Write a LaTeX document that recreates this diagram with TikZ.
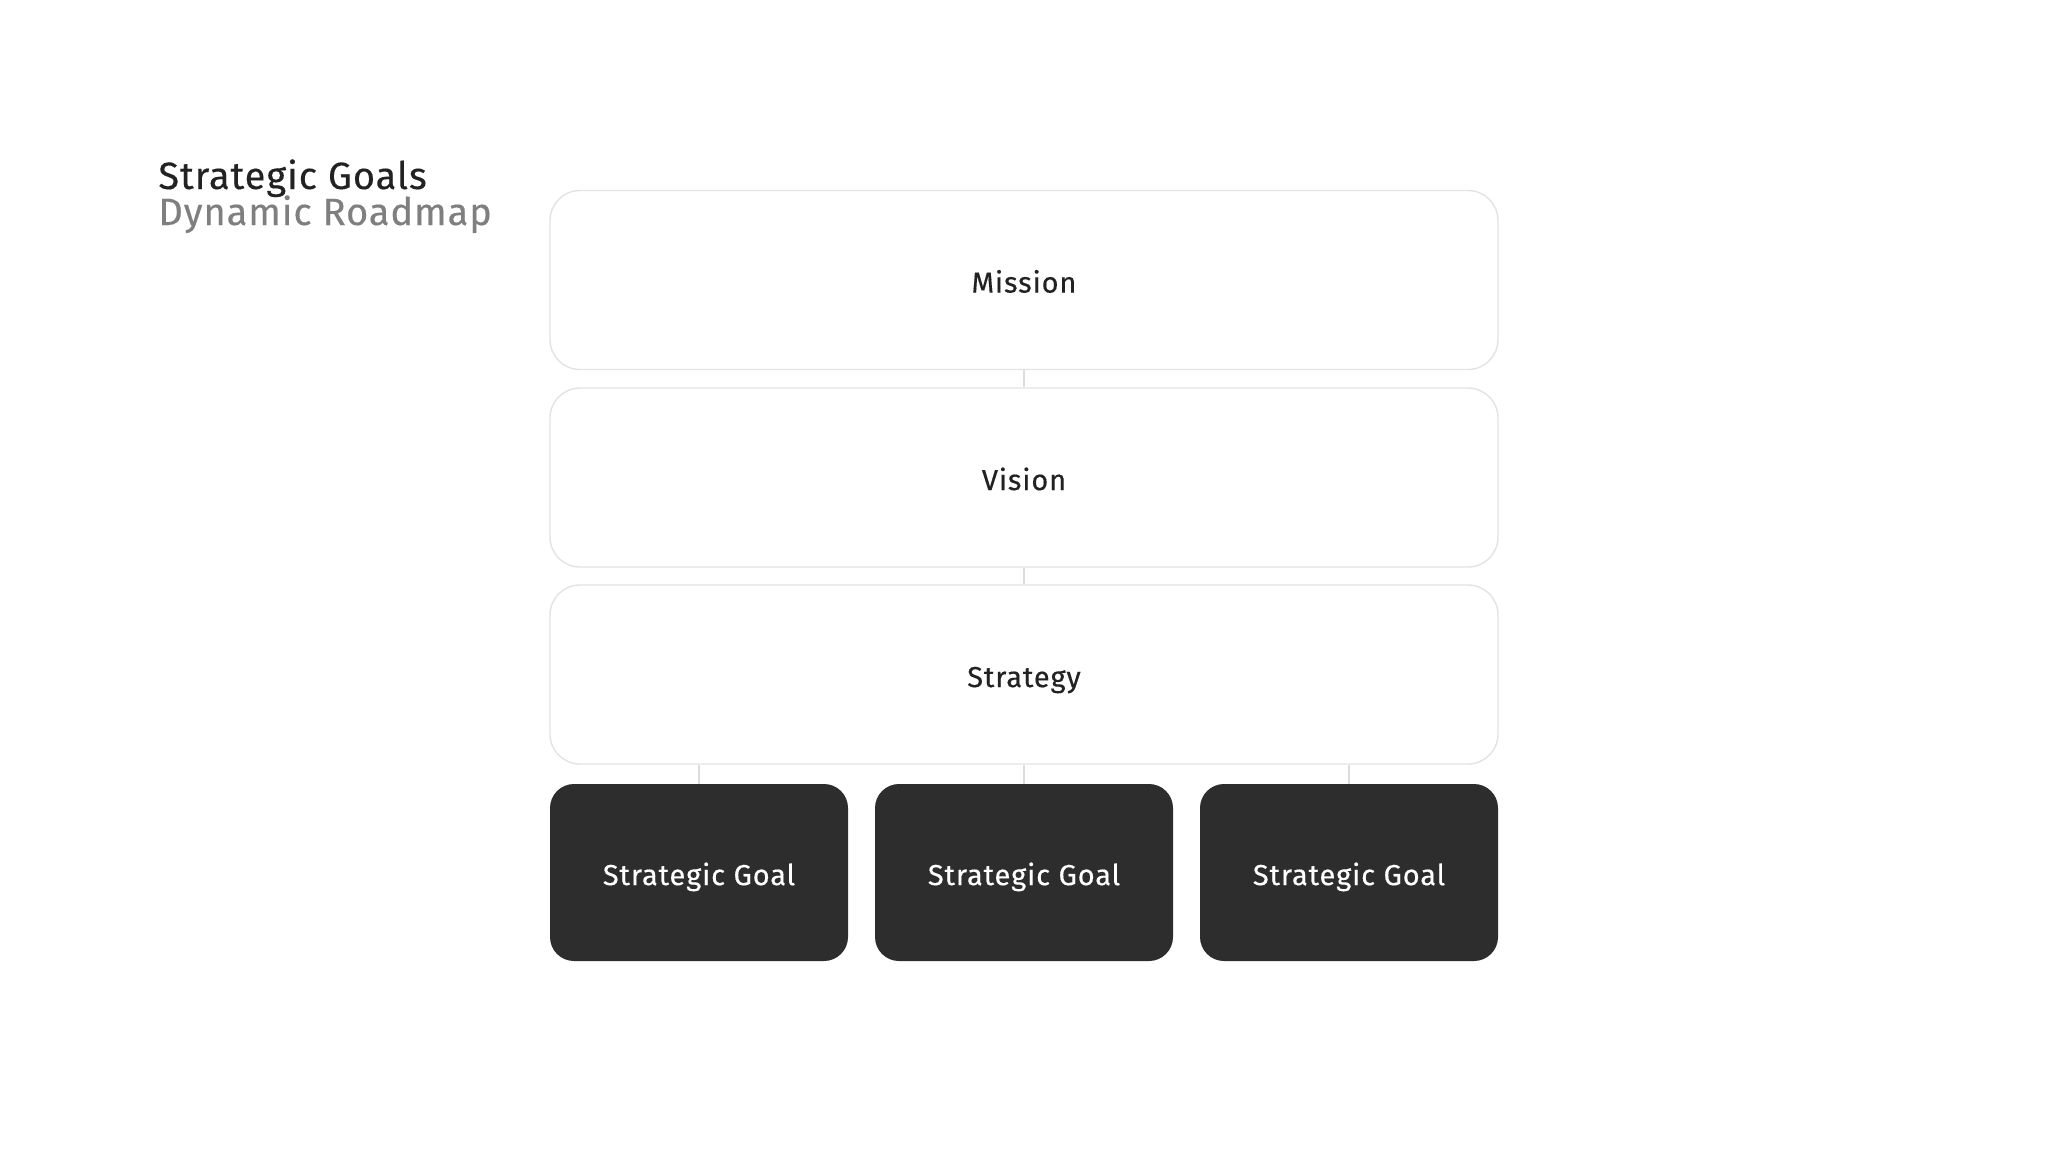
\documentclass[tikz,border=0pt]{standalone}
\usepackage{fontspec}
\setmainfont{Fira Sans}[LetterSpace=3,FakeBold=0.35]
\newfontfamily\titlefont{Fira Sans}[LetterSpace=2.5,FakeBold=0.3]
\definecolor{darkbox}{HTML}{2D2D2D}
\definecolor{lineg}{HTML}{DCDCDC}
\definecolor{borderg}{HTML}{E3E3E3}
\definecolor{inkc}{HTML}{222222}
\definecolor{subg}{HTML}{7F7F7F}
\begin{document}
\begin{tikzpicture}[x=0.5pt,y=-0.5pt,
  boxtext/.style={font=\fontsize{14.5}{16}\selectfont,text height=12.6pt,text depth=0pt},
  lightbox/.style={draw=borderg,line width=0.7pt,fill=white,rounded corners=15pt,minimum width=474pt,minimum height=89.5pt,inner sep=0pt,text=inkc,boxtext},
  goalbox/.style={fill=darkbox,rounded corners=12pt,minimum width=149pt,minimum height=88.5pt,inner sep=0pt,text=white,boxtext},
  link/.style={draw=lineg,line width=0.7pt}]
\useasboundingbox (0,0) rectangle (2048,1152);
\fill[white] (0,0) rectangle (2048,1152);
\node[anchor=base west,text=inkc,font=\titlefont\fontsize{19}{22}\selectfont,inner sep=0pt] (title) at (158,189) {Strategic Goals};
\node[anchor=base west,text=subg,font=\titlefont\fontsize{19}{22}\selectfont,inner sep=0pt] (sub) at (158,225) {Dynamic Roadmap};
\node[lightbox] (mission) at (1024,280) {Mission};
\node[lightbox] (vision) at (1024,477.5) {Vision};
\node[lightbox] (strategy) at (1024,674.5) {Strategy};
\node[goalbox] (g1) at (699,872.5) {Strategic Goal};
\node[goalbox] (g2) at (1024,872.5) {Strategic Goal};
\node[goalbox] (g3) at (1349,872.5) {Strategic Goal};
\draw[link] (mission.south) -- (vision.north);
\draw[link] (vision.south) -- (strategy.north);
\draw[link] (strategy.south -| g1.north) -- (g1.north);
\draw[link] (strategy.south) -- (g2.north);
\draw[link] (strategy.south -| g3.north) -- (g3.north);
\end{tikzpicture}
\end{document}
